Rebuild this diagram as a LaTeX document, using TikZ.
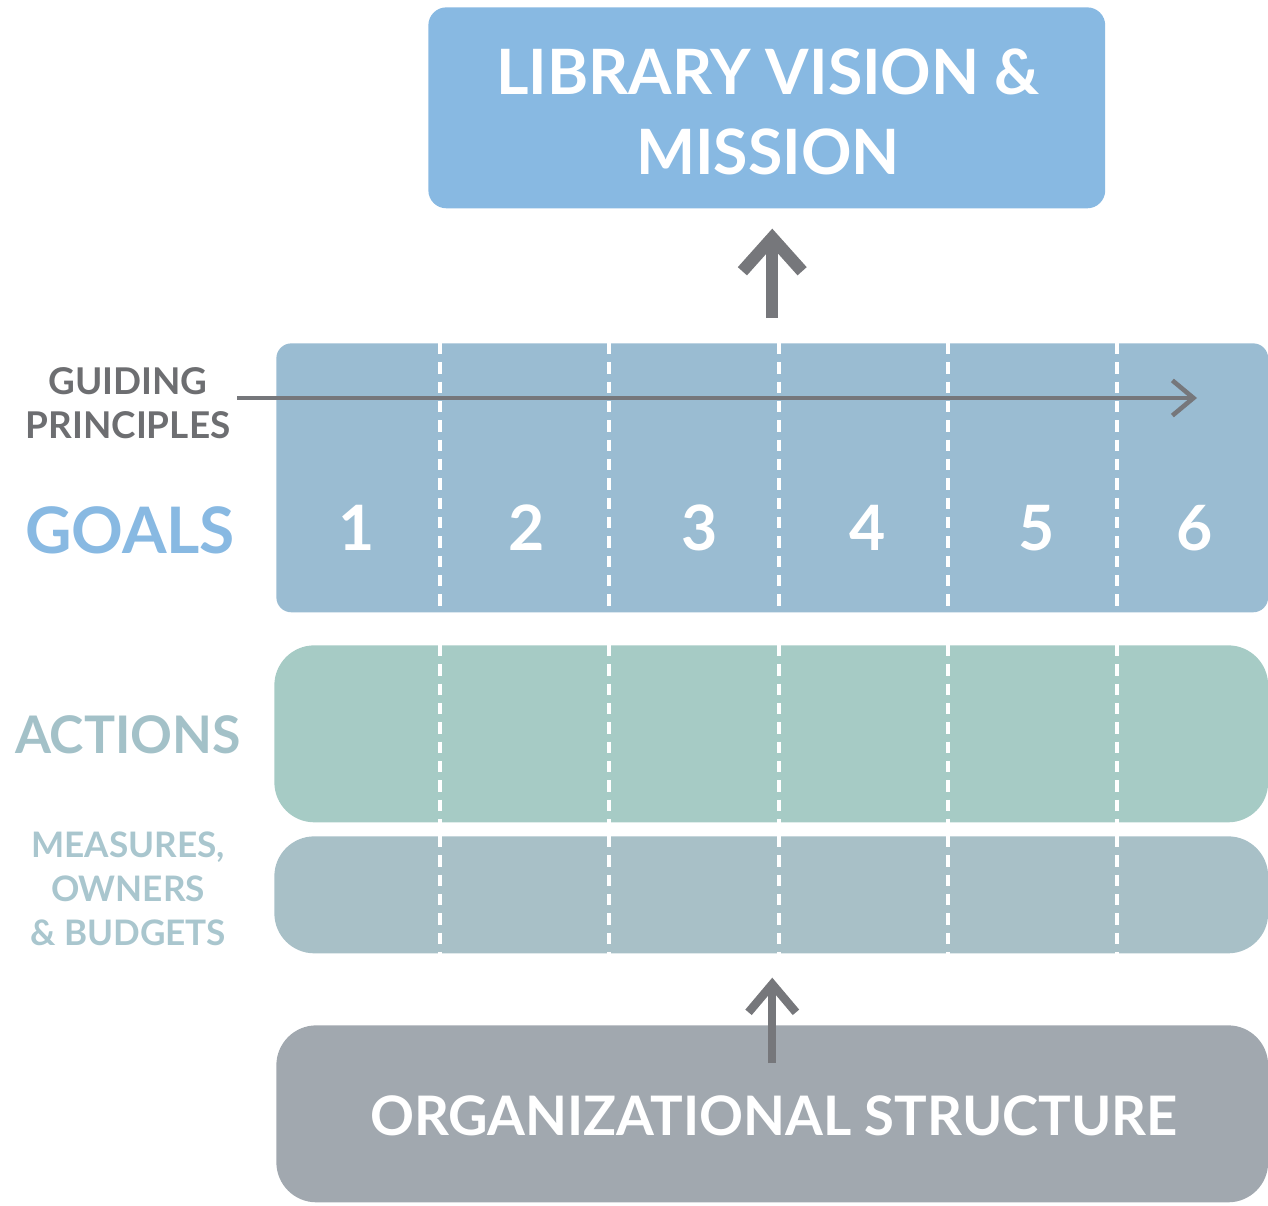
\documentclass[tikz,border=0pt]{standalone}
\usepackage{fontspec}
\setmainfont{Lato}
\usepackage{tikz}
\usetikzlibrary{arrows.meta}
\usepackage{xcolor}

\definecolor{visionblue}{HTML}{88B9E2}
\definecolor{goalsblue}{HTML}{9ABCD2}
\definecolor{actiongreen}{HTML}{A6CBC5}
\definecolor{measuregray}{HTML}{A8C0C7}
\definecolor{orggray}{HTML}{A1A8AF}
\definecolor{arrowgray}{HTML}{76777B}
\definecolor{guidegray}{HTML}{6D6E71}
\definecolor{actiontext}{HTML}{A3C1C8}
\definecolor{measuretext}{HTML}{A9C6CE}

\newcommand{\setsize}[2]{\fontsize{#1}{#2}\selectfont\bfseries}

\begin{document}
\begin{tikzpicture}[x=0.02cm, y=-0.02cm,
    band/.style={rectangle, anchor=north west, inner sep=0pt},
    divider/.style={white, line width=1.8pt, dash pattern=on 6.5pt off 4.5pt},
    bigarrow/.style={arrowgray, line width=7pt, -{Straight Barb[length=19pt,width=34pt]}},
    smallarrow/.style={arrowgray, line width=4.8pt, -{Straight Barb[length=16pt,width=27pt]}},
    flowarrow/.style={arrowgray, line width=2.6pt, -{Straight Barb[length=12pt,width=20pt]}}]
    \useasboundingbox (0,0) rectangle (1268,1206);

    % bands
    \node[band, fill=visionblue, rounded corners=0.36cm, minimum width=13.54cm, minimum height=4.02cm] (vision) at (428,7) {};
    \node[band, fill=goalsblue, rounded corners=0.3cm, minimum width=19.84cm, minimum height=5.38cm] (goals) at (276,343) {};
    \node[band, fill=actiongreen, rounded corners=0.8cm, minimum width=19.88cm, minimum height=3.54cm] (actions) at (274,645) {};
    \node[band, fill=measuregray, rounded corners=0.8cm, minimum width=19.88cm, minimum height=2.34cm] (measures) at (274,836) {};
    \node[band, fill=orggray, rounded corners=0.8cm, minimum width=19.84cm, minimum height=3.54cm] (org) at (276,1025) {};

    % column dividers
    \foreach \x in {440,609,779,948,1117} {
        \draw[divider] (\x,0 |- goals.north) -- (\x,0 |- goals.south);
        \draw[divider] (\x,0 |- actions.north) -- (\x,0 |- actions.south);
        \draw[divider] (\x,0 |- measures.north) -- (\x,0 |- measures.south);
    }

    \node[white, align=center, font=\setsize{35.6pt}{45.5pt}] (visiontext) at (768,112) {LIBRARY VISION \&\\MISSION};
    \node[white, anchor=base, font=\setsize{31pt}{36pt}] (orgtext) at (774,1135) {ORGANIZATIONAL STRUCTURE};

    \foreach \n/\x in {1/357,2/527,3/700,4/868,5/1037,6/1195}
        \node[white, anchor=base, font=\setsize{35.6pt}{40pt}] (goal\n) at (\x,550) {\n};

    % labels on the left
    \node[guidegray, align=center, font=\setsize{21pt}{25pt}] (guiding) at (128,403) {GUIDING\\PRINCIPLES};
    \node[visionblue, anchor=base, font=\setsize{36.5pt}{40pt}] (goalslabel) at (130,553) {GOALS};
    \node[actiontext, anchor=base, font=\setsize{29.5pt}{36pt}] (actionslabel) at (128,753) {ACTIONS};
    \node[measuretext, align=center, font=\setsize{20pt}{25pt}] (measureslabel) at (128,889) {MEASURES,\\OWNERS\\\& BUDGETS};

    % arrows
    \coordinate (gpstart) at (237,398);
    \coordinate (gpend) at (1197,398);
    \draw[flowarrow] (gpstart) -- (gpend);
    \draw[bigarrow] ([yshift=0.5cm]goals.north) -- ([yshift=-0.4cm]goals.north |- vision.south);
    \draw[smallarrow] ([yshift=-0.76cm]org.north) -- ([yshift=-0.48cm]org.north |- measures.south);
\end{tikzpicture}
\end{document}
